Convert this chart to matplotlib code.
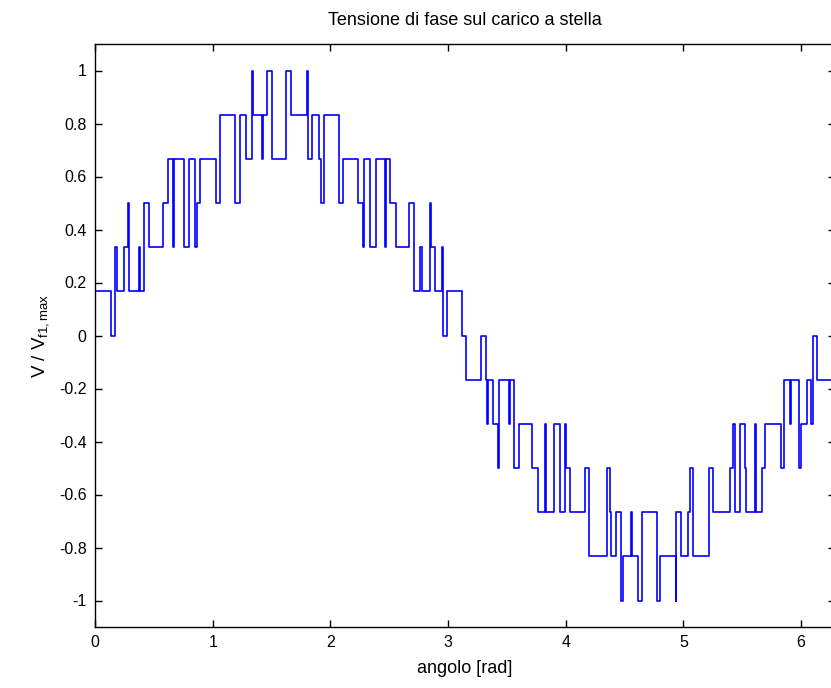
import matplotlib
matplotlib.use("Agg")
import matplotlib.pyplot as plt
import numpy as np

plt.rcParams['font.family'] = ['Liberation Sans', 'DejaVu Sans']
plt.rcParams['mathtext.fontset'] = 'custom'
plt.rcParams['mathtext.rm'] = 'Liberation Sans'
plt.rcParams['mathtext.it'] = 'Liberation Sans'
plt.rcParams['axes.unicode_minus'] = False

# switching instants [rad] and level after each instant (in sixths of V_f1,max)
angle = [0.000, 0.003, 0.139, 0.167, 0.184, 0.244, 0.283, 0.289, 0.371, 0.380,
         0.416, 0.459, 0.578, 0.620, 0.663, 0.671, 0.756, 0.796, 0.852, 0.869,
         0.895, 1.026, 1.060, 1.192, 1.235, 1.286, 1.334, 1.340, 1.422, 1.428,
         1.464, 1.507, 1.626, 1.668, 1.802, 1.808, 1.844, 1.901, 1.918, 1.944,
         2.074, 2.108, 2.235, 2.278, 2.289, 2.337, 2.384, 2.467, 2.473, 2.510,
         2.555, 2.669, 2.711, 2.759, 2.776, 2.844, 2.851, 2.892, 2.949, 2.960,
         2.991, 3.122, 3.149, 3.278, 3.325, 3.331, 3.342, 3.382, 3.425, 3.433,
         3.516, 3.524, 3.558, 3.603, 3.716, 3.765, 3.822, 3.829, 3.897, 3.949,
         3.992, 4.005, 4.034, 4.167, 4.196, 4.351, 4.374, 4.388, 4.430, 4.473,
         4.487, 4.558, 4.564, 4.615, 4.651, 4.776, 4.804, 4.935, 4.940, 4.983,
         5.040, 5.054, 5.082, 5.218, 5.252, 5.394, 5.422, 5.436, 5.479, 5.520,
         5.532, 5.609, 5.615, 5.666, 5.694, 5.827, 5.858, 5.906, 5.912, 5.985,
         6.000, 6.048, 6.085, 6.102, 6.133, 2 * np.pi]
level = [0, 1, 0, 2, 1, 2, 3, 1, 2, 1,
         3, 2, 3, 4, 2, 4, 2, 4, 2, 3,
         4, 3, 5, 3, 5, 4, 6, 5, 4, 5,
         6, 4, 6, 5, 6, 4, 5, 4, 3, 5,
         3, 4, 3, 2, 4, 2, 4, 2, 4, 3,
         2, 3, 1, 2, 1, 3, 2, 1, 2, 0,
         1, 0, -1, 0, -1, -2, -1, -2, -3, -1,
         -2, -1, -3, -2, -3, -4, -2, -4, -2, -4,
         -2, -3, -4, -3, -5, -3, -4, -5, -4, -6,
         -5, -4, -5, -6, -4, -6, -5, -6, -4, -5,
         -4, -3, -5, -3, -4, -3, -2, -4, -2, -3,
         -4, -2, -4, -3, -2, -3, -1, -2, -1, -3,
         -2, -1, -2, 0, -1, -1]

yticks = [-1, -0.8, -0.6, -0.4, -0.2, 0, 0.2, 0.4, 0.6, 0.8, 1]
ytick_labels = ['-1', '-0.8', '-0.6', '-0.4', '-0.2', '0', '0.2', '0.4', '0.6', '0.8', '1']
xticks = [0, 1, 2, 3, 4, 5, 6]

v = np.array(level) / 6.0

fig = plt.figure(figsize=(8.31, 6.88), dpi=100)
ax = fig.add_axes([95 / 831, 61 / 688, 739.5 / 831, 583 / 688])
ax.plot(angle, v, drawstyle='steps-post', color='#0000ff', linewidth=1.2)

ax.set_xlim(0, 2 * np.pi)
ax.set_ylim(-1.1, 1.1)
ax.set_xticks(xticks)
ax.set_xticklabels([str(t) for t in xticks])
ax.set_yticks(yticks)
ax.set_yticklabels(ytick_labels)
ax.tick_params(direction='in', length=5, width=1, top=True, right=True,
               labelsize=11.5, pad=6)
for s in ax.spines.values():
    s.set_linewidth(1)

ax.set_title('Tensione di fase sul carico a stella', fontsize=13, pad=14)
ax.set_xlabel('angolo [rad]', fontsize=13, labelpad=7)
ax.set_ylabel(r'V / V$_{\rm f1,max}$', fontsize=13.5, labelpad=6)

fig.savefig('out.png', dpi=100)
